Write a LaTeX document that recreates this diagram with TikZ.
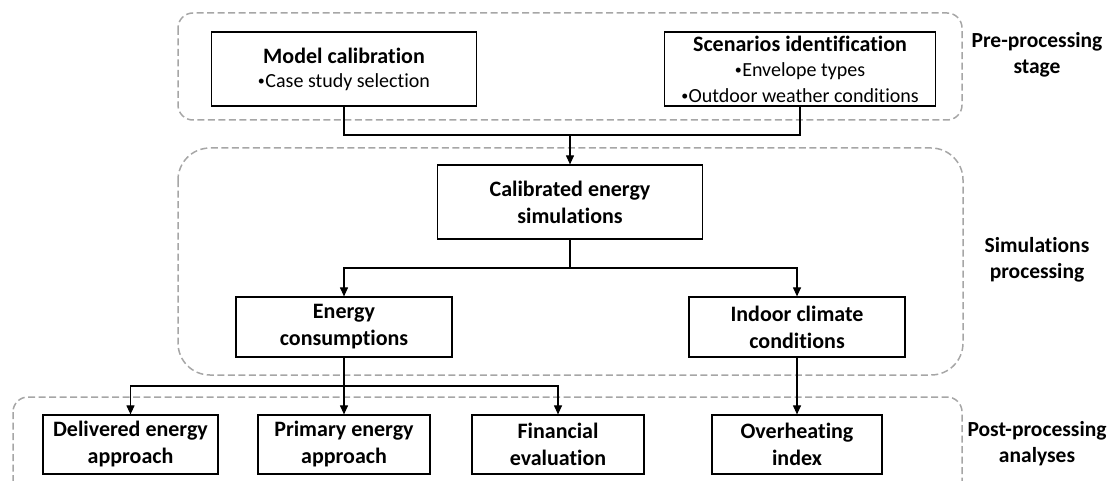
\documentclass[tikz,border=0pt]{standalone}
\usepackage{fontspec}
\setmainfont{Carlito}[Ligatures={NoCommon,NoContextual}]
\usetikzlibrary{arrows.meta}
\tikzset{
  grp/.style={draw=black!35, line width=1.5pt, dash pattern=on 7pt off 3.5pt},
  box/.style={draw=black, line width=1.2pt, inner sep=0pt, align=center,
    font=\fontsize{22}{27}\selectfont\bfseries},
  lbl/.style={inner sep=0pt, align=center, font=\fontsize{21.5}{26}\selectfont\bfseries},
  conn/.style={draw=black, line width=1.1pt},
  arr/.style={conn, -{Triangle[length=9pt,width=8pt]}},
}
\newcommand{\bul}[1]{{\fontsize{20}{23}\selectfont\mdseries\raisebox{1.5pt}{\fontsize{14}{14}\selectfont •}\kern0.5pt#1}}
\begin{document}
\begin{tikzpicture}[x=1pt,y=-1pt]
\useasboundingbox (0,0) rectangle (1107,481);
% groups
\draw[grp, rounded corners=15pt] (178,13) rectangle (962,120);
\draw[grp, rounded corners=32pt] (178,148) rectangle (963,375);
\begin{scope}
\clip (0,0) rectangle (1107,481);
\draw[grp, rounded corners=15pt] (13,397) rectangle (962,500);
\end{scope}
% boxes
\node[box, minimum width=265pt, minimum height=74pt] (mc) at (344,69)
  {Model calibration\\[-3pt]\bul{Case study selection}};
\node[box, minimum width=271pt, minimum height=74pt] (sc) at (800,69)
  {Scenarios identification\\[-2pt]\bul{Envelope types}\\[-1pt]\bul{Outdoor weather conditions}};
\node[box, minimum width=265pt, minimum height=74pt] (cal) at (570,202)
  {Calibrated energy\\simulations};
\node[box, minimum width=216pt, minimum height=60pt] (ec) at (344,327)
  {Energy\\consumptions};
\node[box, minimum width=216pt, minimum height=60pt] (ic) at (797,327)
  {Indoor climate\\conditions};
\node[box, minimum width=175pt, minimum height=59pt] (de) at (130.5,444.5)
  {Delivered energy\\approach};
\node[box, minimum width=172pt, minimum height=59pt] (pe) at (344,444.5)
  {Primary energy\\approach};
\node[box, minimum width=172pt, minimum height=59pt] (fe) at (558,444.5)
  {Financial\\evaluation};
\node[box, minimum width=170pt, minimum height=59pt] (oi) at (797,444.5)
  {Overheating\\index};
% labels
\node[lbl] (l1) at (1037,55) {Pre-processing\\stage};
\node[lbl] (l2) at (1037,260) {Simulations\\processing};
\node[lbl] (l3) at (1037,444) {Post-processing\\analyses};
% junctions
\coordinate (j1) at (570,135);
\coordinate (j2) at (570,268);
\coordinate (j3) at (344,386);
% connectors
\draw[conn] (mc.south) -- (mc.south |- j1) -- (sc.south |- j1) -- (sc.south);
\draw[arr] (j1) -- (cal.north);
\draw[conn] (cal.south) -- (j2);
\draw[arr] (j2) -| (ec.north);
\draw[arr] (j2) -| (ic.north);
\draw[arr] (ec.south) -- (pe.north);
\draw[arr] (j3) -| (de.north);
\draw[arr] (j3) -| (fe.north);
\draw[arr] (ic.south) -- (oi.north);
\end{tikzpicture}
\end{document}
